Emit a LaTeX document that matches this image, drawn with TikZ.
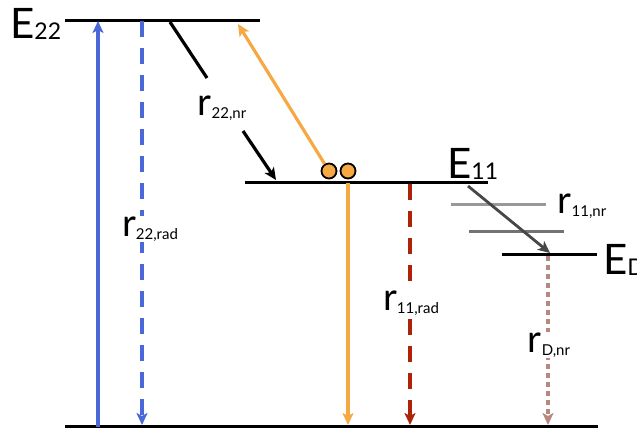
\documentclass[tikz,border=0pt]{standalone}
\usepackage{fontspec}
\setmainfont{Lato}
\usetikzlibrary{arrows.meta}
\definecolor{cblue}{HTML}{4A68D8}
\definecolor{corange}{HTML}{F6A843}
\definecolor{cred}{HTML}{AE2308}
\definecolor{cbrown}{HTML}{B8877E}
\newcommand\bigE[1]{{\fontsize{42}{42}\selectfont E}{\fontsize{23}{23}\selectfont\raisebox{-1pt}{#1}}}
\newcommand\rate[1]{{\fontsize{38}{38}\selectfont r}{\fontsize{15}{15}\selectfont\raisebox{-3pt}{#1}}}
\tikzset{
  level/.style={line width=3pt, line cap=butt},
  glevel/.style={line width=3pt},
  tip/.style={-{Stealth[length=12pt,width=11pt,inset=3pt]}},
  tr/.style={line width=3.2pt},
  lab/.style={fill=white, inner sep=1pt},
  elab/.style={inner sep=0pt, anchor=base west},
}
\begin{document}
\begin{tikzpicture}[x=1pt,y=-1pt]
\useasboundingbox (0,0) rectangle (637,431);
% levels
\coordinate (e22a) at (65,20); \coordinate (e22b) at (260,20);
\coordinate (e11a) at (245,182); \coordinate (e11b) at (488,182);
\coordinate (g1a) at (451,204); \coordinate (g1b) at (546,204);
\coordinate (g2a) at (469,231); \coordinate (g2b) at (564,231);
\coordinate (eda) at (502,254); \coordinate (edb) at (597,254);
\coordinate (g0a) at (65,426); \coordinate (g0b) at (598,426);
\draw[level] (e22a) -- (e22b);
\draw[level] (e11a) -- (e11b);
\draw[glevel, draw=black!40] (g1a) -- (g1b);
\draw[glevel, draw=black!55] (g2a) -- (g2b);
\draw[level] (eda) -- (edb);
\draw[level] (g0a) -- (g0b);
% labels of levels
\node[elab] (tE22) at (10,38) {\bigE{22}};
\node[elab] (tE11) at (447,178) {\bigE{11}};
\node[elab] (tED) at (603,274) {\bigE{D}};
% blue transitions
\coordinate (b1s) at (98,427); \coordinate (b1e) at (98,21);
\draw[tr, tip, cblue] (b1s) -- (b1e);
\coordinate (b2s) at (142,21); \coordinate (b2e) at (142,425);
\draw[tr, tip, cblue, dash pattern=on 16pt off 11pt] (b2s) -- (b2e);
\node[lab] (r22rad) at (150,229) {\rate{22,rad}};
% black nonradiative
\coordinate (n1s) at (170,22); \coordinate (n1e) at (207,78);
\draw[tr, black] (n1s) -- (n1e);
\node[lab] (r22nr) at (222,108) {\rate{22,nr}};
\coordinate (n2s) at (243,131); \coordinate (n2e) at (276,180);
\draw[tr, tip, black] (n2s) -- (n2e);
% dots
\node[circle, draw=black, line width=1.8pt, fill=corange, minimum size=15pt, inner sep=0pt] (d1) at (329,171) {};
\node[circle, draw=black, line width=1.8pt, fill=corange, minimum size=15pt, inner sep=0pt] (d2) at (348,171) {};
\coordinate (ot) at (238,24);
\draw[tr, tip, corange] (d1) -- (ot);
% orange down
\coordinate (o2s) at (348,183); \coordinate (o2e) at (348,425);
\draw[tr, tip, corange] (o2s) -- (o2e);
% red dashed
\coordinate (rs) at (410,184); \coordinate (re) at (410,425);
\draw[tr, tip, cred, dash pattern=on 16pt off 11pt] (rs) -- (re);
\node[lab] (r11rad) at (411,303) {\rate{11,rad}};
% gray nonradiative to ED
\coordinate (gs) at (468,186); \coordinate (ge) at (550,253);
\draw[line width=2.8pt, black!72, tip] (gs) -- (ge);
\node[lab, fill=none] (r11nr) at (582,206) {\rate{11,nr}};
% brown dotted
\coordinate (bs) at (548,256); \coordinate (be) at (548,425);
\draw[tr, tip, cbrown, dash pattern=on 5pt off 4pt] (bs) -- (be);
\node[lab] (rDnr) at (549,345) {\rate{D,nr}};
\end{tikzpicture}
\end{document}
